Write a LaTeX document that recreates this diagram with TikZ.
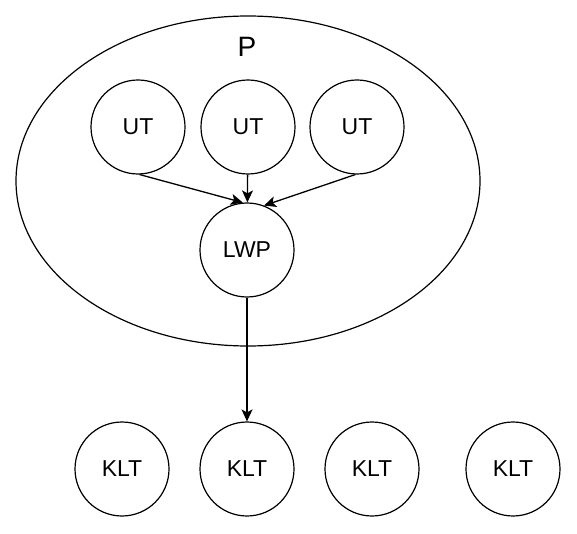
\documentclass[tikz,border=0pt]{standalone}
\usepackage{fontspec}
\setmainfont{Liberation Sans}
\usetikzlibrary{arrows.meta,shapes.geometric}
\begin{document}
\begin{tikzpicture}[x=1pt,y=-1pt,
  circ/.style={draw, line width=1.2pt, circle, minimum size=94pt, inner sep=0pt, font=\fontsize{23}{26}\selectfont},
  arr/.style={draw, line width=1.3pt, -{Stealth[length=12pt,width=11pt,inset=3pt]}}]
\useasboundingbox (0,0) rectangle (577,534);
\node[draw, line width=1.2pt, ellipse, minimum width=464pt, minimum height=330pt, inner sep=0pt] (P) at (248,181) {};
\node[font=\fontsize{28}{31}\selectfont] (Pl) at (247,47) {P};
\node[circ] (u1) at (138,127) {UT};
\node[circ] (u2) at (248,127) {UT};
\node[circ] (u3) at (357,127) {UT};
\node[circ] (lwp) at (247,250) {LWP};
\node[circ] (k1) at (122,469) {KLT};
\node[circ] (k2) at (247,469) {KLT};
\node[circ] (k3) at (372,469) {KLT};
\node[circ] (k4) at (513,469) {KLT};
\draw[arr] (u1.-88) -- (lwp.95);
\draw[arr] (u2) -- (lwp);
\draw[arr] (u3.-92) -- (lwp.69);
\draw[arr] (lwp) -- (k2);
\end{tikzpicture}
\end{document}
